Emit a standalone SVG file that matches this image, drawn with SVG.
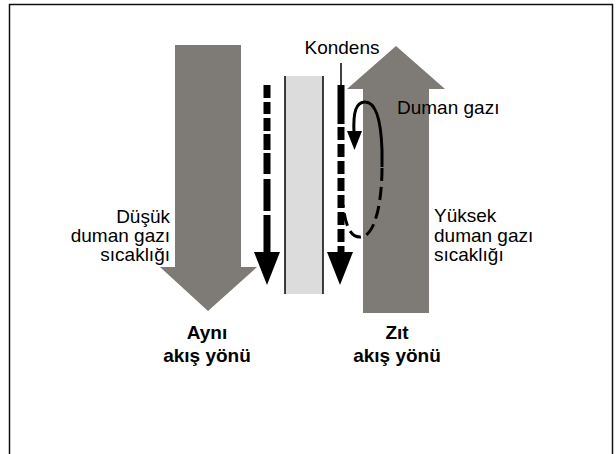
<svg xmlns="http://www.w3.org/2000/svg" width="616" height="454" viewBox="0 0 616 454">
<style>
.t{font-family:"Liberation Sans",Arial,sans-serif;font-size:19px;fill:#000}
.b{font-weight:bold}
.big{fill:#7e7b76}
.blk{fill:#000}
</style>
<rect x="0" y="0" width="616" height="454" fill="#fff"/>
<path d="M9.5,454 V4.5 H612.5 V454" fill="none" stroke="#111" stroke-width="1.5"/>
<g id="flow-down">
<polygon class="big" points="175,45 241,45 241,267 257,267 208,311 160,267 175,267"/>
</g>
<g id="flow-up">
<polygon class="big" points="363,313 429,313 429,89 445,89 396,46 347,89 363,89"/>
</g>
<g id="wall">
<rect x="285" y="76" width="38" height="218" fill="#dcdcdc"/>
<line x1="285" y1="76" x2="285" y2="294" stroke="#000" stroke-width="1.5"/>
<line x1="323" y1="76" x2="323" y2="294" stroke="#000" stroke-width="1.5"/>
</g>
<g id="connectors">
<g id="left-dashed">
<rect class="blk" x="263.5" y="85" width="7" height="13"/>
<rect class="blk" x="263.5" y="102" width="7" height="12"/>
<rect class="blk" x="263.5" y="118" width="7" height="13"/>
<rect class="blk" x="263.5" y="134" width="7" height="16"/>
<rect class="blk" x="263.5" y="153" width="7" height="21"/>
<rect class="blk" x="263.5" y="179" width="7" height="32"/>
<rect class="blk" x="263.5" y="215" width="7" height="38"/>
<polygon class="blk" points="254,252 280,252 267,285"/>
</g>
<g id="right-dashed">
<line x1="341" y1="63" x2="341" y2="85" stroke="#000" stroke-width="1.5"/>
<rect class="blk" x="337.5" y="85" width="7" height="39"/>
<line x1="341" y1="127" x2="341" y2="253" stroke="#000" stroke-width="7" stroke-dasharray="13 4"/>
<polygon class="blk" points="327,252 353,252 340,285"/>
</g>
<g id="loop">
<path d="M354,133 C353,112 356,102 365,102 C376,102 381,120 382,150 L382,167" fill="none" stroke="#000" stroke-width="3"/>
<path d="M382,168 C382,195 377,237 360,237 C352,237 346,230 343,205" fill="none" stroke="#000" stroke-width="3" stroke-dasharray="13 6"/>
<polygon class="blk" points="347,131 362,131 354.5,150"/>
</g>
</g>
<g id="label-kondens"><text class="t" x="342" y="54" text-anchor="middle">Kondens</text></g>
<g id="label-duman"><text class="t" x="397" y="114">Duman gazı</text></g>
<g id="label-dusuk">
<text class="t" x="170" y="223" text-anchor="end">Düşük</text>
<text class="t" x="170" y="242" text-anchor="end">duman gazı</text>
<text class="t" x="170" y="261" text-anchor="end">sıcaklığı</text>
</g>
<g id="label-yuksek">
<text class="t" x="434" y="222">Yüksek</text>
<text class="t" x="434" y="241.5">duman gazı</text>
<text class="t" x="434" y="261">sıcaklığı</text>
</g>
<g id="label-ayni">
<text class="t b" x="207" y="339" text-anchor="middle">Aynı</text>
<text class="t b" x="207" y="362" text-anchor="middle">akış yönü</text>
</g>
<g id="label-zit">
<text class="t b" x="397" y="339" text-anchor="middle">Zıt</text>
<text class="t b" x="397" y="362" text-anchor="middle">akış yönü</text>
</g>
</svg>
